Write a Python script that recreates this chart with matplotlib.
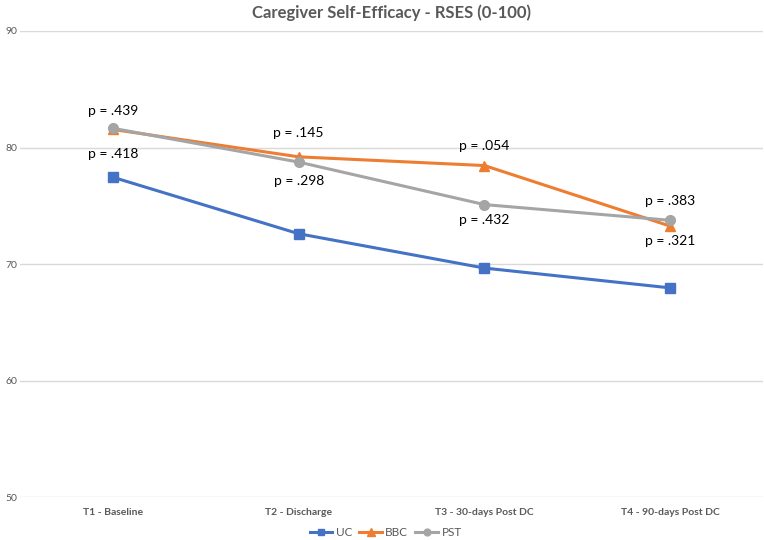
import matplotlib
matplotlib.use("Agg")
import matplotlib.pyplot as plt

categories = ["T1 - Baseline", "T2 - Discharge", "T3 - 30-days Post DC", "T4 - 90-days Post DC"]
uc = [77.45, 72.6, 69.65, 67.95]
bbc = [81.55, 79.2, 78.45, 73.25]
pst = [81.65, 78.75, 75.1, 73.75]
p_upper = ["p = .439", "p = .145", "p = .054", "p = .383"]
p_lower = ["p = .418", "p = .298", "p = .432", "p = .321"]
yticks = [50, 60, 70, 80, 90]

plt.rcParams['font.family'] = ['Lato', 'DejaVu Sans']
fig = plt.figure(figsize=(7.64, 5.40), dpi=100)
ax = fig.add_axes([0.026, 0.0796, 0.973, 0.863])
x = list(range(len(categories)))
ax.plot(x, uc, color="#4472C4", lw=2.2, marker="s", ms=6.5, label="UC")
ax.plot(x, bbc, color="#ED7D31", lw=2.2, marker="^", ms=7.5, label="BBC")
ax.plot(x, pst, color="#A5A5A5", lw=2.2, marker="o", ms=7, label="PST")

upper_y = [83.13, 81.24, 80.13, 75.41]
lower_y = [79.44, 77.12, 73.78, 71.97]
for i in x:
    ax.text(i, upper_y[i], p_upper[i], ha="center", va="center", fontsize=10, color="black")
    ax.text(i, lower_y[i], p_lower[i], ha="center", va="center", fontsize=10, color="black")

ax.set_xlim(-0.5, 3.5)
ax.set_ylim(50, 90)
ax.set_yticks(yticks)
ax.set_xticks(x)
ax.set_xticklabels(categories, fontsize=7.5, fontweight="bold", color="#595959")
ax.tick_params(axis="y", labelsize=7.5, labelcolor="#595959", length=0, pad=2)
ax.tick_params(axis="x", length=0, pad=8)
ax.grid(axis="y", color="#D9D9D9", lw=1)
ax.set_axisbelow(True)
for s in ax.spines.values():
    s.set_visible(False)
ax.set_title("Caregiver Self-Efficacy - RSES (0-100)", fontsize=12, fontweight="bold", color="#595959", pad=9)
fig.legend(loc="center", bbox_to_anchor=(0.505, 0.014), ncol=3, frameon=False, fontsize=8.5,
           handlelength=1.9, columnspacing=0.6, handletextpad=0.3, labelcolor="#595959", markerscale=0.7)
fig.savefig("out.png", dpi=100)
